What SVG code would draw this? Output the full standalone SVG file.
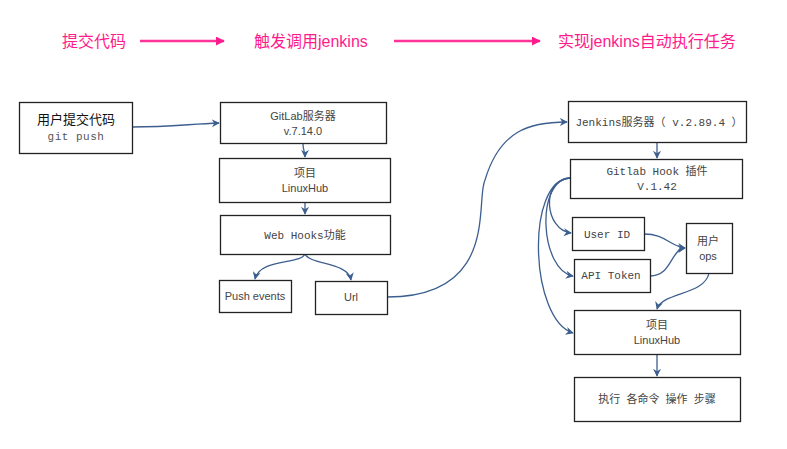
<svg xmlns="http://www.w3.org/2000/svg" width="787" height="449" viewBox="0 0 787 449">
<defs>
<style>
.box{fill:#fff;stroke:#222;stroke-width:1.3}
.t{font-family:"Liberation Sans","Noto Sans CJK SC",sans-serif;font-size:11px;fill:#444;text-anchor:middle}
.m{font-family:"Liberation Mono","Noto Sans CJK SC",monospace;font-size:11px;fill:#444;text-anchor:middle}
.h{font-family:"Liberation Sans","Noto Sans CJK SC",sans-serif;font-size:16px;fill:#ff1a8c}
.c{fill:none;stroke:#3c5f8f;stroke-width:1.3}
.p{stroke:#ff3399;stroke-width:2.5;fill:none}
</style>
<marker id="a" viewBox="0 0 10 10" refX="9" refY="5" markerWidth="8" markerHeight="8" markerUnits="userSpaceOnUse" orient="auto">
<path d="M0,0 L10,5 L0,10 L3,5 Z" fill="#3c5f8f"/>
</marker>
<marker id="pa" viewBox="0 0 10 10" refX="9" refY="5" markerWidth="9" markerHeight="9" markerUnits="userSpaceOnUse" orient="auto">
<path d="M0,0 L10,5 L0,10 Z" fill="#ff1a8c"/>
</marker>
</defs>
<rect width="787" height="449" fill="#fff"/>
<g id="header">
<text class="h" x="62" y="47">提交代码</text>
<text class="h" x="254" y="47">触发调用jenkins</text>
<text class="h" x="558" y="47">实现jenkins自动执行任务</text>
<line class="p" x1="140" y1="41" x2="224" y2="41" marker-end="url(#pa)"/>
<line class="p" x1="394" y1="41" x2="540" y2="41" marker-end="url(#pa)"/>
</g>
<g id="connectors">
<path class="c" d="M132,127 C170,127 190,124 219,123" marker-end="url(#a)"/>
<path class="c" d="M303,144 C303,150 305,152 305,157" marker-end="url(#a)"/>
<path class="c" d="M305,202 L305,214" marker-end="url(#a)"/>
<path class="c" d="M305,254 C300,265 260,258 255,279" marker-end="url(#a)"/>
<path class="c" d="M305,254 C310,265 348,262 351,280" marker-end="url(#a)"/>
<path class="c" d="M387,297 C500,297 475,200 485,180 C500,130 530,122 567,122" marker-end="url(#a)"/>
<path class="c" d="M657,142 L657,158" marker-end="url(#a)"/>
<path class="c" d="M570,178 C540,180 545,230 571,233" marker-end="url(#a)"/>
<path class="c" d="M570,178 C535,180 540,270 573,276" marker-end="url(#a)"/>
<path class="c" d="M570,178 C525,180 530,320 573,333" marker-end="url(#a)"/>
<path class="c" d="M644,234 C665,234 670,246 685,248" marker-end="url(#a)"/>
<path class="c" d="M650,276 C672,276 670,250 685,248" marker-end="url(#a)"/>
<path class="c" d="M709,273 C705,295 662,292 657,309" marker-end="url(#a)"/>
<path class="c" d="M657,354 L657,376" marker-end="url(#a)"/>
</g>
<g id="user">
<rect class="box" x="19.5" y="102.5" width="113" height="51"/>
<text class="t" x="76" y="124" style="font-size:13px;fill:#111">用户提交代码</text>
<text class="m" x="76" y="140" style="fill:#555;letter-spacing:0.5px">git push</text>
</g>
<g id="gitlab">
<rect class="box" x="220.5" y="102.5" width="166" height="41"/>
<text class="t" x="303" y="120">GitLab服务器</text>
<text class="t" x="303" y="135">v.7.14.0</text>
</g>
<g id="project1">
<rect class="box" x="219.5" y="158.5" width="171" height="44"/>
<text class="t" x="305" y="177">项目</text>
<text class="t" x="305" y="192">LinuxHub</text>
</g>
<g id="webhooks">
<rect class="box" x="220.5" y="215.5" width="170" height="39"/>
<text class="m" x="305" y="239">Web Hooks功能</text>
</g>
<g id="pushevents">
<rect class="box" x="219.5" y="280.5" width="72" height="32"/>
<text class="t" x="255" y="300">Push events</text>
</g>
<g id="url">
<rect class="box" x="315.5" y="281.5" width="72" height="33"/>
<text class="t" x="351" y="301">Url</text>
</g>
<g id="jenkins">
<rect class="box" x="568.5" y="101.5" width="178" height="41"/>
<text class="m" x="659" y="126">Jenkins服务器（ v.2.89.4 ）</text>
</g>
<g id="gitlabhook">
<rect class="box" x="570.5" y="159.5" width="172" height="39"/>
<text class="m" x="657" y="175">Gitlab Hook 插件</text>
<text class="m" x="657" y="190">V.1.42</text>
</g>
<g id="userid">
<rect class="box" x="572.5" y="217.5" width="72" height="33"/>
<text class="m" x="607" y="238">User ID</text>
</g>
<g id="apitoken">
<rect class="box" x="574.5" y="259.5" width="76" height="33"/>
<text class="m" x="611" y="279">API Token</text>
</g>
<g id="userops">
<rect class="box" x="686.5" y="223.5" width="46" height="50"/>
<text class="t" x="708" y="245">用户</text>
<text class="t" x="708" y="260">ops</text>
</g>
<g id="project2">
<rect class="box" x="574.5" y="310.5" width="166" height="44"/>
<text class="t" x="657" y="329">项目</text>
<text class="t" x="657" y="344">LinuxHub</text>
</g>
<g id="exec">
<rect class="box" x="574.5" y="377.5" width="166" height="44"/>
<text class="t" x="657" y="403" style="white-space:pre">执行  各命令  操作  步骤</text>
</g>
</svg>
